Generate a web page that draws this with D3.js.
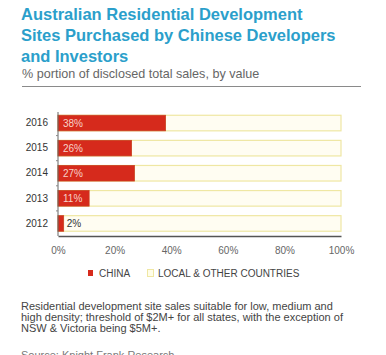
<!DOCTYPE html>
<html>
<head>
<meta charset="utf-8">
<script src="https://cdn.jsdelivr.net/npm/d3@7"></script>
<style>
  html, body { margin: 0; padding: 0; background: #fff; }
  svg { display: block; }
</style>
</head>
<body>
<svg id="chart" width="386" height="355"></svg>
<script>
const years = ["2016", "2015", "2014", "2013", "2012"];
const chinaShare = [38, 26, 27, 11, 2];
const xTicks = [0, 20, 40, 60, 80, 100];
const titleLines = ["Australian Residential Development", "Sites Purchased by Chinese Developers", "and Investors"];
const subtitle = "% portion of disclosed total sales, by value";
const legendLabels = ["CHINA", "LOCAL & OTHER COUNTRIES"];
const noteLines = [
  "Residential development site sales suitable for low, medium and",
  "high density; threshold of $2M+ for all states, with the exception of",
  "NSW & Victoria being $5M+."
];
const sourceText = "Source: Knight Frank Research";

const svg = d3.select("#chart");
const font = "'Liberation Sans', Arial, Helvetica, sans-serif";

// Title
svg.append("g").selectAll("text").data(titleLines).join("text")
  .attr("x", 21).attr("y", (d, i) => 20 + i * 21)
  .attr("font-family", font).attr("font-weight", "bold").attr("font-size", 16.5)
  .attr("fill", "#2b9fcb").text(d => d);

svg.append("text").attr("x", 22).attr("y", 78)
  .attr("font-family", font).attr("font-size", 12.6).attr("fill", "#666")
  .text(subtitle);

svg.append("line").attr("x1", 22).attr("x2", 361).attr("y1", 86.5).attr("y2", 86.5)
  .attr("stroke", "#8a8a8a").attr("stroke-width", 1);

// Scales
const x = d3.scaleLinear().domain([0, 100]).range([58, 341]);
const y = d3.scaleBand().domain(years).range([110.5, 236]).paddingInner(0.38).paddingOuter(0.19);

const data = years.map((yr, i) => ({ year: yr, v: chinaShare[i] }));

// background (local & other) bars
svg.append("g").selectAll("rect").data(data).join("rect")
  .attr("x", x(0)).attr("y", d => y(d.year))
  .attr("width", x(100) - x(0)).attr("height", y.bandwidth())
  .attr("fill", "#fffdf2").attr("stroke", "#efe7a3").attr("stroke-width", 1.2);

// china bars
svg.append("g").selectAll("rect").data(data).join("rect")
  .attr("x", x(0)).attr("y", d => y(d.year))
  .attr("width", d => x(d.v) - x(0)).attr("height", y.bandwidth())
  .attr("fill", "#d62a1c").attr("stroke", "#c8401e").attr("stroke-width", 0.8);

// value labels
svg.append("g").selectAll("text").data(data).join("text")
  .attr("x", d => d.v < 5 ? x(d.v) + 3 : x(0) + 5)
  .attr("y", d => y(d.year) + y.bandwidth() / 2 + 3.5)
  .attr("font-family", font).attr("font-size", 10)
  .attr("fill", d => d.v < 5 ? "#333" : "#f6d2c8")
  .text(d => d.v + "%");

// y axis
const yAxis = d3.axisLeft(y).tickSize(0).tickPadding(10);
const gy = svg.append("g").attr("transform", `translate(${x(0)},0)`).call(yAxis);
gy.select(".domain").attr("stroke", "#666").attr("d", `M0,112V236`);
gy.selectAll(".tick text").attr("font-family", font).attr("font-size", 10).attr("fill", "#333");
// small separators on y axis
svg.append("g").selectAll("line").data(years.slice(1)).join("line")
  .attr("x1", x(0) - 2).attr("x2", x(0))
  .attr("y1", d => y(d) - (y.step() - y.bandwidth()) / 2)
  .attr("y2", d => y(d) - (y.step() - y.bandwidth()) / 2)
  .attr("stroke", "#888");

// x axis
const xAxis = d3.axisBottom(x).tickValues(xTicks).tickFormat(d => d + "%").tickSize(0).tickPadding(11);
const gx = svg.append("g").attr("transform", "translate(0,236)").call(xAxis);
gx.select(".domain").attr("stroke", "#555").attr("stroke-width", 1.5);
gx.selectAll(".tick text").attr("font-family", font).attr("font-size", 10).attr("fill", "#666");

// legend
const lg = svg.append("g");
lg.append("rect").attr("x", 88).attr("y", 270).attr("width", 5).attr("height", 6).attr("fill", "#d62a1c");
lg.append("text").attr("x", 99).attr("y", 276.5).attr("font-family", font).attr("font-size", 10)
  .attr("fill", "#444").text(legendLabels[0]);
lg.append("rect").attr("x", 147.5).attr("y", 269.5).attr("width", 6).attr("height", 7)
  .attr("fill", "#fffde8").attr("stroke", "#efe7a3");
lg.append("text").attr("x", 158).attr("y", 276.5).attr("font-family", font).attr("font-size", 10)
  .attr("fill", "#444").text(legendLabels[1]);

// notes
svg.append("g").selectAll("text").data(noteLines).join("text")
  .attr("x", 21).attr("y", (d, i) => 309.5 + i * 11)
  .attr("font-family", font).attr("font-size", 11).attr("fill", "#444").text(d => d);

svg.append("text").attr("x", 21).attr("y", 359)
  .attr("font-family", font).attr("font-size", 11).attr("fill", "#777").text(sourceText);
</script>
</body>
</html>
